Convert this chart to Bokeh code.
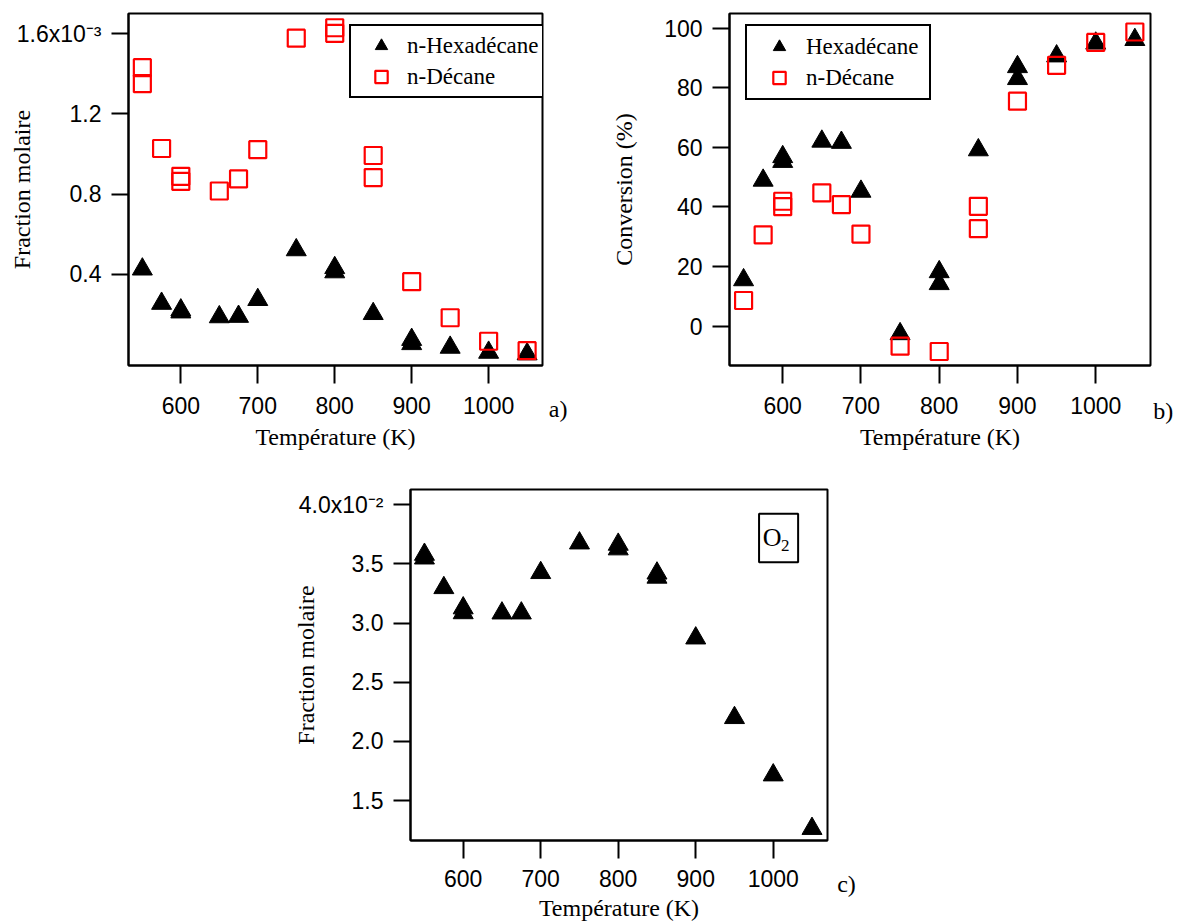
from bokeh.plotting import figure
from bokeh.models import Range1d, FixedTicker, Legend, LegendItem, BoxAnnotation, Label
from bokeh.layouts import column, row
from bokeh.core.properties import value
from bokeh.embed import file_html
from bokeh.resources import INLINE

SANS = "Liberation Sans"
SERIF = "Liberation Serif"

# ---------------- data ----------------
temp_ticks = [600, 700, 800, 900, 1000]
temp_labels = ["600", "700", "800", "900", "1000"]
temp_title = "Température (K)"

# a) mole fractions of n-hexadecane and n-decane
a_hex_T = [550, 575, 600, 600, 650, 675, 700, 750, 800, 800, 850, 900, 900, 950, 1000, 1050]
a_hex = [0.426e-3, 0.255e-3, 0.222e-3, 0.212e-3, 0.188e-3, 0.190e-3, 0.274e-3, 0.522e-3,
         0.433e-3, 0.412e-3, 0.204e-3, 0.075e-3, 0.054e-3, 0.036e-3, 0.011e-3, 0.003e-3]
a_dec_T = [550, 550, 575, 600, 600, 650, 675, 700, 750, 800, 800, 850, 850, 900, 950, 1000, 1050]
a_dec = [1.431e-3, 1.351e-3, 1.028e-3, 0.889e-3, 0.864e-3, 0.816e-3, 0.876e-3, 1.022e-3, 1.578e-3,
         1.630e-3, 1.602e-3, 0.993e-3, 0.883e-3, 0.364e-3, 0.184e-3, 0.067e-3, 0.020e-3]
a_yticks = [0.4e-3, 0.8e-3, 1.2e-3, 1.6e-3]
a_ylabels = ["0.4", "0.8", "1.2", "1.6x10\u207b\u00b3"]
a_ytitle = "Fraction molaire"
a_legend = ["n-Hexadécane", "n-Décane"]
a_tag = "a)"

# b) conversion (%)
b_hex_T = [550, 575, 600, 600, 650, 675, 700, 750, 800, 800, 850, 900, 900, 950, 1000, 1050]
b_hex = [15.5, 48.9, 56.8, 55.2, 62.0, 61.6, 45.2, -2.6, 18.2, 14.2, 59.1, 87.0, 83.0, 90.6, 94.9, 96.1]
b_dec_T = [550, 575, 600, 600, 650, 675, 700, 750, 800, 850, 850, 900, 950, 1000, 1050]
b_dec = [8.6, 30.6, 41.9, 40.1, 44.7, 40.8, 30.9, -6.7, -8.5, 40.2, 32.7, 75.5, 87.5, 95.2, 98.7]
b_yticks = [0, 20, 40, 60, 80, 100]
b_ylabels = ["0", "20", "40", "60", "80", "100"]
b_ytitle = "Conversion (%)"
b_legend = ["Hexadécane", "n-Décane"]
b_tag = "b)"

# c) mole fraction of O2
c_o2_T = [550, 550, 575, 600, 600, 650, 675, 700, 750, 800, 800, 850, 850, 900, 950, 1000, 1050]
c_o2 = [3.578e-2, 3.547e-2, 3.297e-2, 3.126e-2, 3.085e-2, 3.083e-2, 3.083e-2, 3.424e-2, 3.674e-2,
        3.663e-2, 3.624e-2, 3.420e-2, 3.385e-2, 2.872e-2, 2.200e-2, 1.716e-2, 1.264e-2]
c_yticks = [1.5e-2, 2.0e-2, 2.5e-2, 3.0e-2, 3.5e-2, 4.0e-2]
c_ylabels = ["1.5", "2.0", "2.5", "3.0", "3.5", "4.0x10\u207b\u00b2"]
c_ytitle = "Fraction molaire"
c_species = ("O", "2")
c_tag = "c)"

# ---------------- layout constants ----------------
XR = (532, 1070)
A_YR = (-0.054e-3, 1.701e-3)
B_YR = (-13.2, 104.9)
C_YR = (1.164e-2, 4.127e-2)

TRI = dict(marker="triangle", size=20, fill_color="black", line_color="black", line_width=1)
SQR = dict(marker="square", size=17, fill_color=None, line_color="#ff0000", line_width=2.2)


def make_fig(yr, fw, fh, mbl, mbr, mbt, mbb):
    p = figure(x_range=Range1d(*XR), y_range=Range1d(*yr), frame_width=fw, frame_height=fh,
               min_border_left=mbl, min_border_right=mbr, min_border_top=mbt, min_border_bottom=mbb,
               output_backend="svg", toolbar_location=None)
    p.title.visible = False
    p.background_fill_color = "white"
    p.border_fill_color = "white"
    p.xgrid.visible = False
    p.ygrid.visible = False
    p.outline_line_color = "black"
    p.outline_line_width = 2
    p.outline_line_alpha = 1
    return p


def style_axis(ax, ticks, labels, tick_out, lab_standoff, title, title_standoff):
    ax.ticker = FixedTicker(ticks=ticks)
    ax.major_label_overrides = {t: l for t, l in zip(ticks, labels)}
    ax.axis_line_color = "black"
    ax.axis_line_width = 2
    ax.major_tick_line_color = "black"
    ax.major_tick_line_width = 2
    ax.major_tick_out = tick_out
    ax.major_tick_in = 0
    ax.minor_tick_out = 0
    ax.minor_tick_in = 0
    ax.major_label_text_font = SANS
    ax.major_label_text_font_size = "23px"
    ax.major_label_text_color = "black"
    ax.major_label_standoff = lab_standoff
    ax.axis_label = title
    ax.axis_label_text_font = SERIF
    ax.axis_label_text_font_size = "24px"
    ax.axis_label_text_font_style = "normal"
    ax.axis_label_text_color = "black"
    ax.axis_label_standoff = title_standoff


def make_legend(items, loc, padding, spacing, glyph_width, label_width):
    return Legend(items=items, location=loc, orientation="vertical", margin=0, padding=padding,
                  spacing=spacing, glyph_width=glyph_width, glyph_height=31, label_standoff=0,
                  label_width=label_width, label_text_font=SERIF, label_text_font_size="23px",
                  label_text_color="black", border_line_color="black", border_line_width=2,
                  border_line_alpha=1, background_fill_color="white", background_fill_alpha=1)


def tag_fig(w, h, text, x, y):
    """Narrow text-only strip to the right of a panel (holds the a) / b) / c) tag)."""
    t = figure(x_range=Range1d(0, w), y_range=Range1d(h, 0), frame_width=w, frame_height=h,
               min_border_left=0, min_border_right=0, min_border_top=0, min_border_bottom=0,
               x_axis_location=None, y_axis_location=None,
               output_backend="svg", toolbar_location=None)
    t.title.visible = False
    t.xgrid.visible = False
    t.ygrid.visible = False
    t.outline_line_color = None
    t.background_fill_color = "white"
    t.border_fill_color = "white"
    t.text(x=[x], y=[y], text=[text], text_font=value(SERIF), text_font_size=value("24px"),
           text_color="black", text_align="left", text_baseline="middle")
    return t


# ---------------- panel a ----------------
pa = make_fig(A_YR, 414, 352, 128, 2, 13, 99)
style_axis(pa.xaxis[0], temp_ticks, temp_labels, 18, 13, temp_title, 7)
style_axis(pa.yaxis[0], a_yticks, a_ylabels, 17, 10, a_ytitle, -21)
ra1 = pa.scatter(a_hex_T, a_hex, **TRI)
ra2 = pa.scatter(a_dec_T, a_dec, **SQR)
pa.add_layout(make_legend([LegendItem(label=a_legend[0], renderers=[ra1]),
                           LegendItem(label=a_legend[1], renderers=[ra2])],
                          (221, 267), 4, 0, 52, 120))
ta = tag_fig(38, 464, a_tag, 4.3, 395)

# ---------------- panel b ----------------
pb = make_fig(B_YR, 421, 352, 147, 2, 13, 99)
style_axis(pb.xaxis[0], temp_ticks, temp_labels, 18, 13, temp_title, 7)
style_axis(pb.yaxis[0], b_yticks, b_ylabels, 17, 10, b_ytitle, 24)
rb1 = pb.scatter(b_hex_T, b_hex, **TRI)
rb2 = pb.scatter(b_dec_T, b_dec, **SQR)
pb.add_layout(make_legend([LegendItem(label=b_legend[0], renderers=[rb1]),
                           LegendItem(label=b_legend[1], renderers=[rb2])],
                          (16, 265), 5, -1, 54, 118))
tb = tag_fig(25, 464, b_tag, 0.7, 397)

# ---------------- panel c ----------------
pc = make_fig(C_YR, 417, 351, 410, 2, 25, 82)
style_axis(pc.xaxis[0], temp_ticks, temp_labels, 18, 11, temp_title, 5)
style_axis(pc.yaxis[0], c_yticks, c_ylabels, 17, 10, c_ytitle, -23)
pc.scatter(c_o2_T, c_o2, **TRI)
# species box
box_l, box_r, box_t, box_b = 981.7, 1032.1, 3.922e-2, 3.513e-2
pc.add_layout(BoxAnnotation(left=box_l, right=box_r, top=box_t, bottom=box_b,
                            fill_alpha=0, line_color="black", line_width=2, line_alpha=1))
pc.add_layout(Label(x=box_l, y=box_t, x_offset=13, y_offset=-24, text=c_species[0],
                    text_font=SERIF, text_font_size="26px", text_color="black",
                    text_align="center", text_baseline="middle"))
pc.add_layout(Label(x=box_l, y=box_t, x_offset=22, y_offset=-32, text=c_species[1],
                    text_font=SERIF, text_font_size="17px", text_color="black",
                    text_align="left", text_baseline="middle"))
tc = tag_fig(50, 458, c_tag, 7.7, 394)

layout = column(row(pa, ta, pb, tb), row(pc, tc))
open("out.html", "w").write(file_html(layout, INLINE))
